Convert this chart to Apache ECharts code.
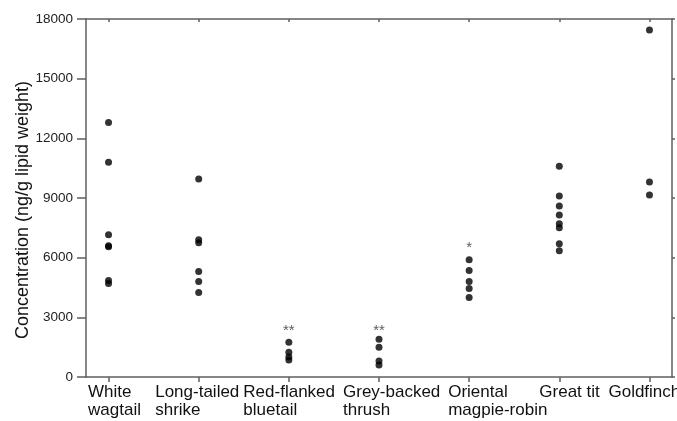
<!DOCTYPE html>
<html>
<head>
<meta charset="utf-8">
<script src="https://cdn.jsdelivr.net/npm/echarts@6/dist/echarts.min.js"></script>
<style>
  html, body { margin: 0; padding: 0; background: #fff; }
  #chart { width: 677px; height: 421px; }
</style>
</head>
<body>
<div id="chart"></div>
<script>
const categories = ['White\nwagtail', 'Long-tailed\nshrike', 'Red-flanked\nbluetail', 'Grey-backed\nthrush', 'Oriental\nmagpie-robin', 'Great tit', 'Goldfinch']
const whiteWagtail = [12800, 10800, 7150, 6600, 6550, 4850, 4700]
const longTailedShrike = [9950, 6900, 6750, 5300, 4800, 4250]
const redFlankedBluetail = [1750, 1250, 1000, 850]
const greyBackedThrush = [1900, 1500, 800, 600]
const orientalMagpieRobin = [5900, 5350, 4800, 4450, 4000]
const greatTit = [10600, 9100, 8600, 8150, 7700, 7500, 6700, 6350]
const goldfinch = [17450, 9800, 9150]
const sigLabels = ['', '', '**', '**', '*', '', '']
const sigHeights = [null, null, 2300, 2300, 6500, null, null]

const groups = [whiteWagtail, longTailedShrike, redFlankedBluetail, greyBackedThrush, orientalMagpieRobin, greatTit, goldfinch]
let points = []
groups.forEach((vals, i) => {
  vals.forEach(v => points.push([i, v]))
})
let sigPoints = []
sigHeights.forEach((h, i) => {
  if (h != null) sigPoints.push({ value: [i, h], label: { formatter: sigLabels[i] } })
})
const catIdx = categories.map((c, i) => i)

// label boxes are centred on the tick, text starts at the box's left edge
const labelBoxWidth = [41, 87, 91, 72, 42, 40, 82]
let labelRich = {}
labelBoxWidth.forEach((w, i) => {
  labelRich['l' + i] = { width: w, align: 'left', fontSize: 17, lineHeight: 18, color: '#111', fontFamily: 'Liberation Sans, Arial, sans-serif' }
})

const lineStyle = { color: '#5f5f5f', width: 1.5 }
const font = 'Liberation Sans, Arial, sans-serif'

const chart = echarts.init(document.getElementById('chart'))
chart.setOption({
  animation: false,
  grid: { left: 86, right: 5, top: 19, bottom: 44, containLabel: false, outerBoundsMode: 'none' },
  xAxis: [
    {
      type: 'value',
      min: -0.25,
      max: 6.25,
      position: 'bottom',
      splitLine: { show: false },
      axisLine: { onZero: false, lineStyle: lineStyle },
      axisTick: { customValues: catIdx, length: 5, lineStyle: lineStyle },
      axisLabel: {
        customValues: catIdx,
        formatter: v => {
          const i = Math.round(v)
          return categories[i].split('\n').map(s => '{l' + i + '|' + s + '}').join('\n')
        },
        rich: labelRich,
        align: 'center',
        margin: 6,
        verticalAlign: 'top',
        hideOverlap: false
      }
    },
    {
      type: 'value',
      min: -0.25,
      max: 6.25,
      position: 'top',
      splitLine: { show: false },
      axisLine: { onZero: false, lineStyle: lineStyle },
      axisTick: { customValues: catIdx, inside: true, length: 3, lineStyle: lineStyle },
      axisLabel: { show: false }
    }
  ],
  yAxis: [
    {
      type: 'value',
      min: 0,
      max: 18000,
      interval: 3000,
      name: 'Concentration (ng/g lipid weight)',
      nameLocation: 'middle',
      nameGap: 54,
      nameMoveOverlap: false,
      nameTextStyle: {
        color: '#111',
        fontFamily: font,
        fontSize: 18,
        padding: [0, 24, 0, 0]
      },
      splitLine: { show: false },
      axisLine: { show: true, onZero: false, lineStyle: lineStyle },
      axisTick: { length: 9, lineStyle: lineStyle },
      axisLabel: {
        formatter: v => String(v),
        color: '#222',
        fontFamily: font,
        fontSize: 13.5,
        margin: 13
      }
    },
    {
      type: 'value',
      min: 0,
      max: 18000,
      interval: 3000,
      position: 'right',
      splitLine: { show: false },
      axisLine: { show: true, onZero: false, lineStyle: lineStyle },
      axisTick: { length: 3, lineStyle: lineStyle },
      axisLabel: { show: false }
    }
  ],
  series: [
    {
      type: 'scatter',
      symbol: 'circle',
      symbolSize: 7,
      itemStyle: { color: '#000' },
      data: points
    },
    {
      type: 'scatter',
      symbolSize: 0,
      silent: true,
      label: {
        show: true,
        position: 'inside',
        color: '#333',
        fontFamily: font,
        fontSize: 15
      },
      data: sigPoints
    }
  ]
})
</script>
</body>
</html>
